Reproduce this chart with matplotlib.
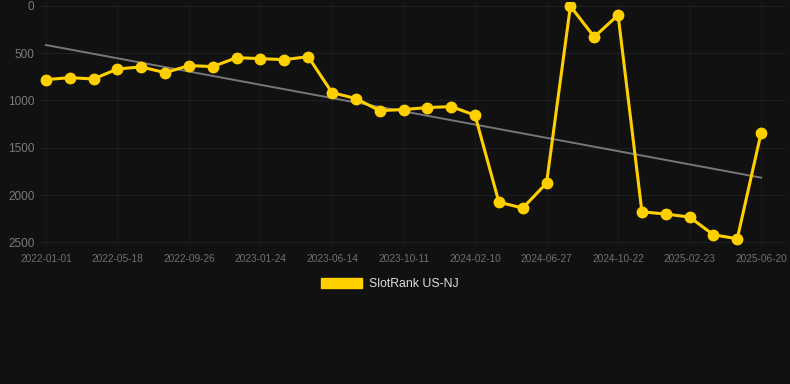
import numpy as np
import matplotlib
matplotlib.use("Agg")
import matplotlib.pyplot as plt
from matplotlib.patches import Patch

# ranks, one point roughly every 6 weeks
ranks = [781, 760, 774, 668, 647, 707, 633, 643, 549, 559, 570, 538,
         918, 981, 1108, 1097, 1076, 1066, 1157, 2075, 2138, 1874,
         5, 330, 98, 2177, 2201, 2233, 2420, 2462, 1343]
tick_labels = ["2022-01-01", "2022-05-18", "2022-09-26", "2023-01-24",
               "2023-06-14", "2023-10-11", "2024-02-10", "2024-06-27",
               "2024-10-22", "2025-02-23", "2025-06-20"]
y_ticks = [0, 500, 1000, 1500, 2000, 2500]

bg = "#111111"
gold = "#FFD000"

plt.rcParams['font.family'] = ['Liberation Sans', 'DejaVu Sans']

fig = plt.figure(figsize=(7.9, 3.84), dpi=100, facecolor=bg)
ax = fig.add_axes([0.0506, 0.359, 0.943, 0.636], facecolor=bg)

x = np.arange(len(ranks))
ax.plot(x, ranks, color=gold, lw=2.2, marker="o", ms=7.5, zorder=3)

# linear trend
k, b = np.polyfit(x, ranks, 1)
ax.plot(x, k * x + b, color="#777777", lw=1.4, zorder=2)

ax.set_xlim(-0.25, 31)
ax.set_ylim(2540, -40)
ax.set_xticks(x[::3])
ax.set_xticklabels(tick_labels)
ax.set_yticks(y_ticks)
ax.tick_params(axis="x", colors="#707070", labelsize=7.3, length=0, pad=6)
ax.tick_params(axis="y", colors="#7a7a7a", labelsize=8.5, length=0, pad=4)
ax.grid(True, axis="y", color="#1f1f1f", lw=0.8)
ax.grid(True, axis="x", color="#1a1a1a", lw=0.8)
for s in ax.spines.values():
    s.set_visible(False)

fig.legend(handles=[Patch(facecolor=gold, edgecolor=gold, label="SlotRank US-NJ")],
           loc="center", bbox_to_anchor=(0.5 - 5 / 790, 1 - 284 / 384), frameon=False,
           fontsize=8.8, labelcolor="#dddddd", handlelength=3.3, handleheight=0.95,
           handletextpad=0.6)

fig.savefig("out.png", dpi=100, facecolor=bg)
